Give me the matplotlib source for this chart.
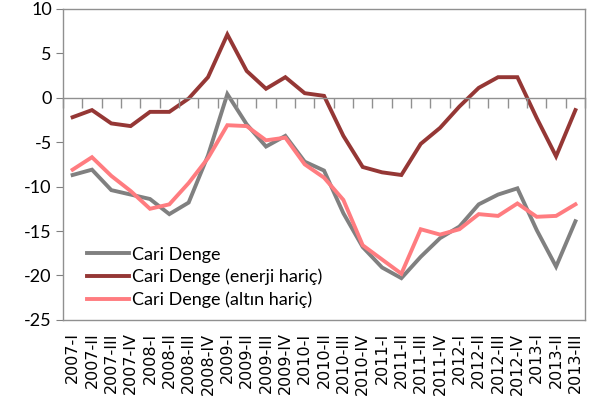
import matplotlib
matplotlib.use("Agg")
import matplotlib.pyplot as plt
import numpy as np

quarters = ["2007-I", "2007-II", "2007-III", "2007-IV",
            "2008-I", "2008-II", "2008-III", "2008-IV",
            "2009-I", "2009-II", "2009-III", "2009-IV",
            "2010-I", "2010-II", "2010-III", "2010-IV",
            "2011-I", "2011-II", "2011-III", "2011-IV",
            "2012-I", "2012-II", "2012-III", "2012-IV",
            "2013-I", "2013-II", "2013-III"]

cari_denge = [-8.7, -8.1, -10.4, -10.9, -11.4, -13.1, -11.8, -6.5,
              0.4, -3.0, -5.5, -4.3, -7.2, -8.2, -13.0, -16.8,
              -19.1, -20.3, -17.9, -15.8, -14.5, -12.0, -10.9, -10.2,
              -14.9, -19.0, -13.9]
enerji_haric = [-2.2, -1.4, -2.9, -3.2, -1.6, -1.6, -0.1, 2.3,
                7.1, 3.0, 1.0, 2.3, 0.5, 0.2, -4.3, -7.8,
                -8.4, -8.7, -5.2, -3.4, -1.0, 1.1, 2.3, 2.3,
                -2.3, -6.6, -1.4]
altin_haric = [-8.1, -6.7, -8.8, -10.5, -12.5, -12.0, -9.6, -6.8,
               -3.1, -3.2, -4.8, -4.5, -7.5, -9.0, -11.5, -16.6,
               -18.2, -19.8, -14.8, -15.4, -14.8, -13.1, -13.3, -11.9,
               -13.4, -13.3, -12.0]

series_labels = ["Cari Denge", "Cari Denge (enerji hariç)", "Cari Denge (altın hariç)"]
colors = ["#808080", "#953735", "#FF7C80"]
yticks = [10, 5, 0, -5, -10, -15, -20, -25]

plt.rcParams['font.family'] = ['Lato', 'DejaVu Sans']

fig = plt.figure(figsize=(5.94, 4.05), dpi=100)
ax = fig.add_axes([0.106, 0.21, 0.879, 0.7685])

x = np.arange(len(quarters))
for vals, lab, c in zip([cari_denge, enerji_haric, altin_haric], series_labels, colors):
    ax.plot(x, vals, color=c, lw=2.8, label=lab, solid_joinstyle='miter')

ax.set_xlim(-0.5, len(quarters) - 0.5)
ax.set_ylim(-25, 10)
ax.set_yticks(yticks)
ax.set_yticklabels([str(v) for v in yticks], fontsize=13)
ax.tick_params(axis='y', direction='out', length=5, color='#808080', pad=3)
ax.set_xticks(x)
ax.set_xticklabels(quarters, rotation=90, fontsize=11.5, family=['DejaVu Sans'])
ax.tick_params(axis='x', length=0, pad=9)
for s in ax.spines.values():
    s.set_color('#909090')
    s.set_linewidth(1.0)

# zero axis line with category boundary ticks
ax2 = ax.twiny()
ax2.set_xlim(ax.get_xlim())
ax2.spines['bottom'].set_position(('data', 0))
ax2.xaxis.set_ticks_position('bottom')
ax2.set_xticks(np.arange(len(quarters) + 1) - 0.5)
ax2.set_xticklabels([])
ax2.tick_params(axis='x', direction='out', length=7, color='#909090', width=1.0)
for k in ['top', 'left', 'right']:
    ax2.spines[k].set_visible(False)
ax2.spines['bottom'].set_color('#909090')
ax2.spines['bottom'].set_linewidth(1.0)

leg = ax.legend(loc='upper left', bbox_to_anchor=(0.046, 0.235), frameon=False,
                fontsize=13, handlelength=2.3, handletextpad=0.22,
                borderpad=0, borderaxespad=0, labelspacing=0.33)

fig.savefig("out.png", dpi=100)
